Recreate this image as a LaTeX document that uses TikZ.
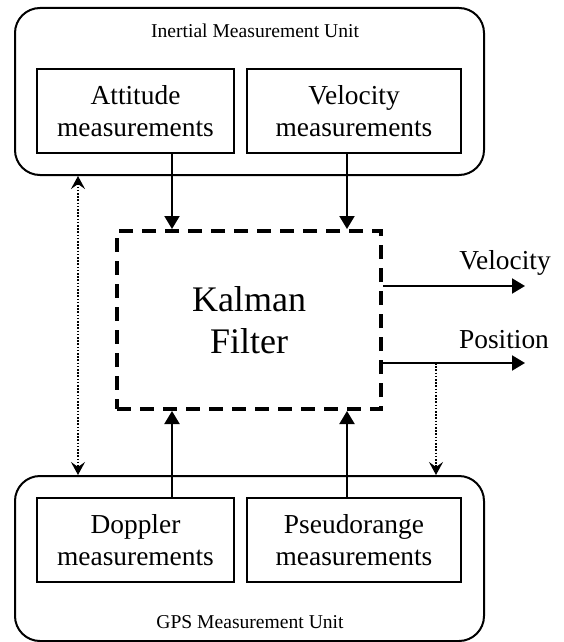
\documentclass[tikz,border=0pt]{standalone}
\usepackage{fontspec}
\setmainfont{Liberation Serif}
\usepackage{tikz}
\usetikzlibrary{arrows.meta}
\tikzstyle{arrow} = [line width=2pt,-{Triangle[length=13pt,width=15pt]}]
\tikzstyle{dotarrow} = [line width=1.6pt,dash pattern=on 1.6pt off 1.6pt,-{Stealth[length=13pt,width=14pt,inset=5pt]}]

\begin{document}
\begin{tikzpicture}[x=1pt,y=-1pt,
    unit/.style={draw, line width=2pt, rounded corners=25pt, minimum width=469pt, minimum height=#1, inner sep=0pt},
    meas/.style={draw, line width=2pt, minimum width=#1, minimum height=84pt, inner sep=0pt, align=center,
        font=\fontsize{27.4}{32}\selectfont},
    caption/.style={font=\fontsize{19.6}{22}\selectfont},
    filterbox/.style={draw, line width=4pt, dash pattern=on 14pt off 9pt, minimum width=264pt, minimum height=178pt,
        inner sep=0pt, align=center, font=\fontsize{36}{42}\selectfont},
    outlabel/.style={font=\fontsize{27.4}{32}\selectfont}]
    \useasboundingbox (0,0) rectangle (563,642);

    % IMU
    \node[unit=167pt] (imu) at (249.5,91.5) {};
    \node[caption] (imutitle) at (255,31) {Inertial Measurement Unit};
    \node[meas=197pt] (att) at (135.5,111) {Attitude\\measurements};
    \node[meas=214pt] (vel) at (354,111) {Velocity\\measurements};

    % filter
    \node[filterbox] (kf) at (249,320) {Kalman\\Filter};

    % GPS
    \node[unit=165pt] (gps) at (249.5,558.5) {};
    \node[meas=197pt] (dop) at (135.5,540) {Doppler\\measurements};
    \node[meas=214pt] (pse) at (354,540) {Pseudorange\\measurements};
    \node[caption] (gpstitle) at (250,622) {GPS Measurement Unit};

    % measurements into the filter
    \coordinate (left) at (172,0);
    \coordinate (right) at (347,0);
    \draw[arrow] (att.south -| left) -- (kf.north -| left);
    \draw[arrow] (vel.south -| right) -- (kf.north -| right);
    \draw[arrow] (dop.north -| left) -- (kf.south -| left);
    \draw[arrow] (pse.north -| right) -- (kf.south -| right);

    % outputs
    \coordinate (velend) at (525,286);
    \coordinate (posend) at (525,363);
    \draw[arrow] (kf.east |- velend) -- (velend);
    \draw[arrow] (kf.east |- posend) -- (posend);
    \node[outlabel] (vellabel) at (505,263) {Velocity};
    \node[outlabel] (poslabel) at (504,340) {Position};

    % dotted links
    \coordinate (tap) at (436,363);
    \coordinate (link) at (78,0);
    \draw[dotarrow] (tap) -- (tap |- gps.north);
    \draw[dotarrow,{Stealth[length=13pt,width=14pt,inset=5pt]}-{Stealth[length=13pt,width=14pt,inset=5pt]}]
        (imu.south -| link) -- (gps.north -| link);
\end{tikzpicture}
\end{document}
